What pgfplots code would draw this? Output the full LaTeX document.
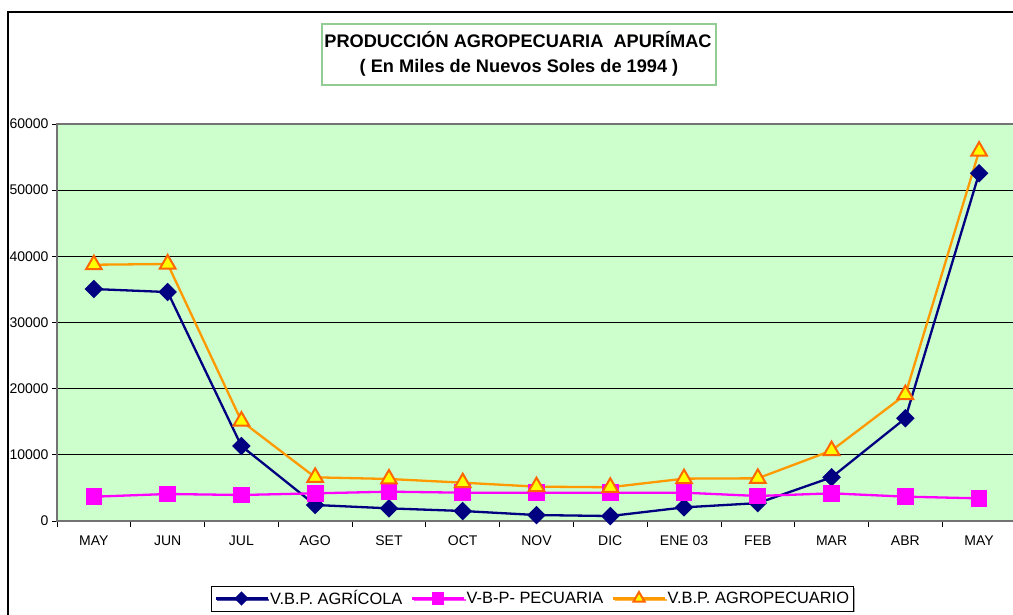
\documentclass[border=0pt]{standalone}
\usepackage{fontspec}
\setmainfont{Liberation Sans}
\usepackage{pgfplots}
\pgfplotsset{compat=1.18}
\usetikzlibrary{shadows}
\definecolor{plotbg}{HTML}{CCFFCC}
\definecolor{navyc}{HTML}{000080}
\definecolor{magc}{HTML}{FF00FF}
\definecolor{orc}{HTML}{FF9900}
\definecolor{ored}{HTML}{FF6600}
\definecolor{yelc}{HTML}{FFFF00}
\begin{document}
\begin{tikzpicture}
\useasboundingbox (0pt,0pt) rectangle (1013pt,615pt);
\fill[white] (0pt,0pt) rectangle (1013pt,615pt);
\draw[black, line width=1.3pt] (8pt,-3pt) -- (8pt,603pt) -- (1020pt,603pt);
\draw[draw=plotbg!90!green!80!black, line width=2.5pt] (322pt,530pt) rectangle (716pt,591pt);
\node[font=\fontsize{18.2}{18.2}\selectfont\bfseries] at (518pt,575pt) {PRODUCCIÓN AGROPECUARIA \ APURÍMAC};
\node[font=\fontsize{18.2}{18.2}\selectfont\bfseries] at (519pt,547pt) {( En Miles de Nuevos Soles de 1994 )};
\begin{axis}[
  at={(57pt,94pt)}, anchor=south west, scale only axis,
  width=959pt, height=397pt,
  xmin=-0.5, xmax=12.5, ymin=0, ymax=60000,
  axis background/.style={fill=plotbg},
  axis line style={draw=black!55, line width=1.2pt},
  /pgf/number format/assume math mode=true,
  ytick={0,10000,...,60000},
  scaled y ticks=false,
  yticklabel style={/pgf/number format/.cd, fixed, 1000 sep={}},
  ymajorgrids, major grid style={black, line width=0.8pt},
  xtick={0,...,12},
  xticklabels={MAY,JUN,JUL,AGO,SET,OCT,NOV,DIC,ENE 03,FEB,MAR,ABR,MAY},
  minor xtick={-0.5,0.5,...,12.5},
  major x tick style={draw=none},
  minor x tick style={black, line width=0.8pt},
  major y tick style={black, line width=0.8pt},
  tick align=outside, tick pos=left,
  major tick length=5pt, minor tick length=6pt,
  ticklabel style={font=\fontsize{14}{14}\selectfont},
  xticklabel style={yshift=-6pt},
  legend columns=3,
  legend image code/.code={\draw[mark repeat=2,mark phase=2,#1, every mark/.append style={scale=0.72}] plot coordinates {(0pt,0pt) (26pt,0pt) (52pt,0pt)};},
  legend style={at={(0.4958,-0.1952)}, anchor=center, draw=black, fill=white,
    font=\fontsize{16.4}{16.4}\selectfont, inner xsep=3pt, inner ysep=2.5pt,
    drop shadow={shadow xshift=1.5pt, shadow yshift=-1.5pt, opacity=0.7},
    nodes={inner xsep=1.5pt},
    /tikz/every even column/.append style={column sep=7pt}},
]
\addplot[navyc, line width=2.3pt, mark=square*, mark size=5.4pt, mark options={rotate=45, fill=navyc, solid}] coordinates {
(0,35060) (1,34600) (2,11330) (3,2420) (4,1910) (5,1510) (6,900) (7,750) (8,2060) (9,2700) (10,6600) (11,15520) (12,52550)};
\addlegendentry{V.B.P. AGRÍCOLA}
\addplot[magc, line width=2.3pt, mark=square*, mark size=7.2pt, mark options={fill=magc, solid}] coordinates {
(0,3670) (1,4080) (2,3930) (3,4180) (4,4430) (5,4280) (6,4280) (7,4280) (8,4280) (9,3780) (10,4180) (11,3680) (12,3420)};
\addlegendentry{V-B-P- PECUARIA}
\addplot[orc, line width=2.3pt, mark=triangle*, mark size=9pt, mark options={fill=yelc, draw=ored, line width=2pt, solid}] coordinates {
(0,38730) (1,38840) (2,15100) (3,6600) (4,6350) (5,5790) (6,5190) (7,5100) (8,6400) (9,6450) (10,10650) (11,19100) (12,55900)};
\addlegendentry{V.B.P. AGROPECUARIO}
\end{axis}
\end{tikzpicture}
\end{document}
